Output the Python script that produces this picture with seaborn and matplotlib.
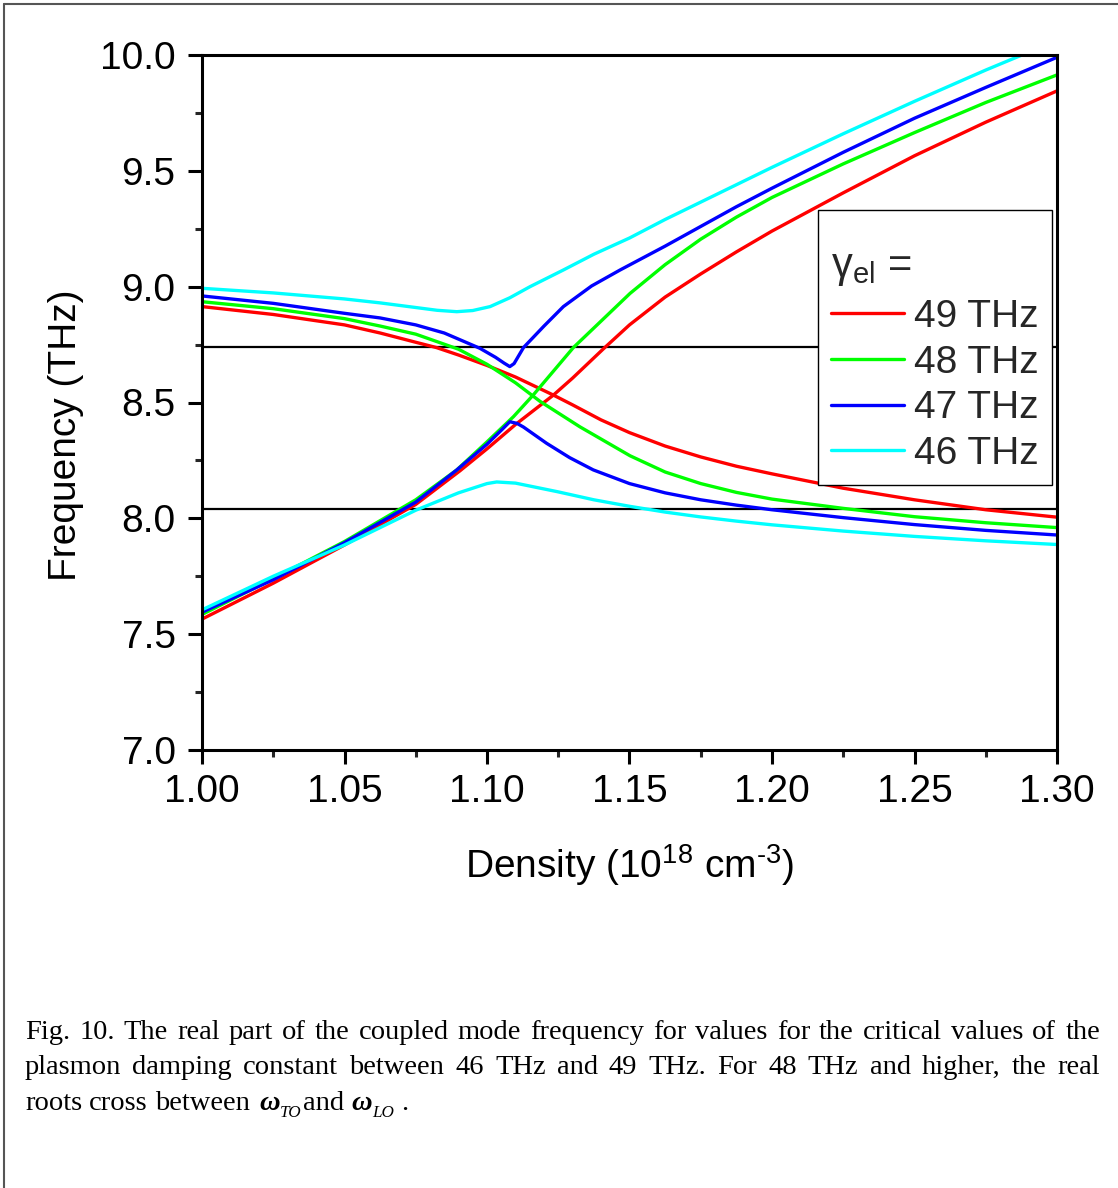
import numpy as np
import pandas as pd
import matplotlib
matplotlib.use("Agg")
import matplotlib.pyplot as plt
from matplotlib.ticker import MultipleLocator, FormatStrFormatter
from matplotlib.lines import Line2D
import seaborn as sns

# ---------------- data ----------------
gamma_labels = ["49 THz", "48 THz", "47 THz", "46 THz"]
line_colors = ["#FF0000", "#00FF00", "#0000FF", "#00FFFF"]
omega_TO_line = 8.04
omega_LO_line = 8.74

# 49 THz
x49_a = [1.000, 1.025, 1.050, 1.0625, 1.075, 1.0823, 1.090, 1.100, 1.110, 1.1233, 1.130, 1.140,
         1.150, 1.1625, 1.175, 1.1875, 1.200, 1.225, 1.250, 1.275, 1.300]
y49_a = [8.914, 8.880, 8.835, 8.800, 8.760, 8.737, 8.705, 8.660, 8.610, 8.532, 8.490, 8.425,
         8.370, 8.312, 8.265, 8.225, 8.192, 8.130, 8.080, 8.037, 8.005]
x49_b = [1.000, 1.025, 1.050, 1.075, 1.0905, 1.100, 1.110, 1.1233, 1.130, 1.1407, 1.150, 1.1625,
         1.175, 1.1875, 1.200, 1.225, 1.250, 1.275, 1.300]
y49_b = [7.565, 7.720, 7.885, 8.060, 8.205, 8.300, 8.405, 8.532, 8.605, 8.730, 8.835, 8.955,
         9.055, 9.150, 9.240, 9.405, 9.565, 9.710, 9.845]

# 48 THz
x48_a = [1.000, 1.025, 1.050, 1.0625, 1.075, 1.090, 1.100, 1.110, 1.1186, 1.1326, 1.1502, 1.1625,
         1.175, 1.1875, 1.200, 1.225, 1.250, 1.275, 1.300]
y48_a = [8.935, 8.905, 8.862, 8.830, 8.795, 8.730, 8.665, 8.585, 8.505, 8.395, 8.270, 8.200,
         8.150, 8.112, 8.083, 8.043, 8.007, 7.981, 7.960]
x48_b = [1.000, 1.025, 1.050, 1.075, 1.0894, 1.100, 1.1093, 1.1162, 1.1303, 1.1502, 1.1625,
         1.175, 1.1875, 1.200, 1.225, 1.250, 1.275, 1.300]
y48_b = [7.585, 7.740, 7.900, 8.080, 8.209, 8.330, 8.439, 8.532, 8.737, 8.971, 9.095,
         9.205, 9.300, 9.385, 9.530, 9.665, 9.795, 9.914]

# 47 THz
x47_a = [1.000, 1.025, 1.050, 1.0625, 1.075, 1.085, 1.0975, 1.1030, 1.1060, 1.1080, 1.1095,
         1.1128, 1.120, 1.1268, 1.1367, 1.1467, 1.1625, 1.175, 1.1875, 1.200, 1.225, 1.250,
         1.275, 1.300]
y47_a = [8.960, 8.928, 8.885, 8.865, 8.835, 8.800, 8.734, 8.695, 8.670, 8.655, 8.668,
         8.737, 8.830, 8.914, 9.003, 9.072, 9.175, 9.260, 9.345, 9.425, 9.580, 9.727,
         9.860, 9.990]
x47_b = [1.000, 1.025, 1.050, 1.075, 1.0894, 1.100, 1.105, 1.108, 1.1105, 1.1128, 1.1209,
         1.129, 1.1373, 1.150, 1.1625, 1.175, 1.1875, 1.200, 1.225, 1.250, 1.275, 1.300]
y47_b = [7.595, 7.735, 7.895, 8.070, 8.209, 8.320, 8.380, 8.417, 8.410, 8.394, 8.324,
         8.262, 8.209, 8.150, 8.110, 8.080, 8.057, 8.037, 8.003, 7.973, 7.948, 7.928]

# 46 THz
x46_a = [1.000, 1.025, 1.050, 1.0625, 1.075, 1.0825, 1.0894, 1.095, 1.1011, 1.108, 1.1151,
         1.1268, 1.1375, 1.150, 1.1625, 1.175, 1.1875, 1.200, 1.225, 1.250, 1.275, 1.2877]
y46_a = [8.993, 8.973, 8.947, 8.930, 8.910, 8.898, 8.892, 8.897, 8.914, 8.952, 9.000,
         9.072, 9.140, 9.210, 9.290, 9.365, 9.440, 9.515, 9.660, 9.800, 9.935, 10.000]
x46_b = [1.000, 1.025, 1.050, 1.075, 1.090, 1.100, 1.1034, 1.110, 1.1247, 1.1375, 1.150,
         1.1625, 1.175, 1.1875, 1.200, 1.225, 1.250, 1.275, 1.300]
y46_b = [7.605, 7.750, 7.885, 8.035, 8.110, 8.150, 8.157, 8.152, 8.115, 8.080, 8.052,
         8.027, 8.006, 7.988, 7.972, 7.945, 7.922, 7.903, 7.887]

branches = [
    ("49 THz", "49a", x49_a, y49_a), ("49 THz", "49b", x49_b, y49_b),
    ("48 THz", "48a", x48_a, y48_a), ("48 THz", "48b", x48_b, y48_b),
    ("47 THz", "47a", x47_a, y47_a), ("47 THz", "47b", x47_b, y47_b),
    ("46 THz", "46a", x46_a, y46_a), ("46 THz", "46b", x46_b, y46_b),
]
rows = []
for g, b, xs, ys in branches:
    for xv, yv in zip(xs, ys):
        rows.append({"density": xv, "freq": yv, "gamma": g, "branch": b})
df = pd.DataFrame(rows)

# ---------------- style ----------------
sns.set_theme(style="white")
plt.rcParams["font.family"] = ["Liberation Sans", "DejaVu Sans"]
plt.rcParams["mathtext.fontset"] = "custom"
plt.rcParams["mathtext.rm"] = "Liberation Sans"
plt.rcParams["mathtext.it"] = "Liberation Sans:italic"
plt.rcParams["mathtext.bf"] = "Liberation Sans:bold"

W, H = 1118, 1188
fig = plt.figure(figsize=(W / 100, H / 100), dpi=100)
fig.patch.set_facecolor("white")
ax = fig.add_axes([202 / W, 1 - 750 / H, 855 / W, 695 / H])

ax.axhline(omega_LO_line, color="black", lw=1.6, zorder=1.5)
ax.axhline(omega_TO_line, color="black", lw=1.6, zorder=1.5)

sns.lineplot(data=df, x="density", y="freq", hue="gamma", hue_order=gamma_labels,
             units="branch", estimator=None, sort=False,
             palette=dict(zip(gamma_labels, line_colors)), linewidth=2.4, ax=ax, zorder=2)

ax.set_xlim(1.0, 1.3)
ax.set_ylim(7.0, 10.0)
ax.xaxis.set_major_locator(MultipleLocator(0.05))
ax.xaxis.set_minor_locator(MultipleLocator(0.025))
ax.yaxis.set_major_locator(MultipleLocator(0.5))
ax.yaxis.set_minor_locator(MultipleLocator(0.25))
ax.xaxis.set_major_formatter(FormatStrFormatter("%.2f"))
ax.yaxis.set_major_formatter(FormatStrFormatter("%.1f"))
ax.tick_params(which="major", direction="out", length=10, width=2.2, labelsize=28,
               colors="black", bottom=True, left=True)
ax.tick_params(which="minor", direction="out", length=5, width=2.2, bottom=True, left=True)
ax.tick_params(axis="x", which="major", pad=7)
ax.tick_params(axis="y", which="major", pad=9)
for s in ax.spines.values():
    s.set_visible(True)
    s.set_color("black")
    s.set_linewidth(2.2)

ax.set_xlabel(r"Density (10$^{\mathregular{18}}$ cm$^{\text{-3}}$)", fontsize=28, color="black")
ax.set_ylabel("Frequency (THz)", fontsize=28, color="black")
ax.xaxis.set_label_coords((630 - 202) / 855, (750 - 842) / 695)
ax.yaxis.set_label_coords((84 - 202) / 855, (750 - 435) / 695)

# legend
old = ax.get_legend()
handles = list(old.legend_handles)
labels = [t.get_text() for t in old.get_texts()]
old.remove()
for h in handles:
    h.set_linewidth(2.4)
leg = ax.legend(handles, labels, title="\n\u03b3$_{\\mathregular{el}}$ =", loc="upper left",
                bbox_to_anchor=((818 - 202) / 855, (750 - 210) / 695), borderaxespad=0,
                fontsize=28, title_fontsize=30, frameon=True, fancybox=False,
                edgecolor="black", framealpha=1, handlelength=1.88, handletextpad=0.26,
                labelspacing=0.25, borderpad=0.33, alignment="left")
leg.get_title().set_linespacing(0.45)
leg.get_frame().set_linewidth(1.0)
leg._legend_box.sep = 8

# outer border
fig.add_artist(Line2D([4 / W, 4 / W], [0, 1 - 4 / H], color="#555555", lw=1.5))
fig.add_artist(Line2D([4 / W, 1], [1 - 4 / H, 1 - 4 / H], color="#555555", lw=1.5))

# ---------------- caption ----------------
renderer = fig.canvas.get_renderer()
cap_size = 20.5
serif = ["Liberation Serif", "DejaVu Serif"]


def place_words(words, baseline_px, x0, x1=None, size=cap_size):
    texts = [fig.text(0, 1 - baseline_px / H, w, fontsize=size, family=serif,
                      va="baseline", ha="left", color="black") for w in words]
    widths = [t.get_window_extent(renderer).width for t in texts]
    if x1 is not None and len(words) > 1:
        gap = (x1 - x0 - sum(widths)) / (len(words) - 1)
    else:
        gap = size * 100 / 72 * 0.25
    x = x0
    for t, w in zip(texts, widths):
        t.set_x(x / W)
        x += w + gap
    return x


line1 = "Fig. 10. The real part of the coupled mode frequency for values for the critical values of the"
line2 = "plasmon damping constant between 46 THz and 49 THz. For 48 THz and higher, the real"
place_words(line1.split(), 1039, 25, 1100)
place_words(line2.split(), 1074, 25, 1100)

# third line with omega symbols
base3 = 1110
x = place_words(["roots", "cross", "between"], base3, 25)
sp = cap_size * 100 / 72 * 0.25


def piece(txt, xpx, base, size, style="normal", weight="normal"):
    t = fig.text(xpx / W, 1 - base / H, txt, fontsize=size, family=serif, style=style,
                 weight=weight, va="baseline", ha="left", color="black")
    return xpx + t.get_window_extent(renderer).width


x = x + 2
x = piece("\u03c9", x, base3, cap_size, style="italic", weight="bold")
x = piece("TO", x, base3 + 7, cap_size * 0.6, style="italic")
x = piece("and", x + 2, base3, cap_size)
x = piece("\u03c9", x + sp, base3, cap_size, style="italic", weight="bold")
x = piece("LO", x, base3 + 7, cap_size * 0.6, style="italic")
x = piece(".", x + sp, base3, cap_size)

fig.savefig("out.png", dpi=100, facecolor="white")
